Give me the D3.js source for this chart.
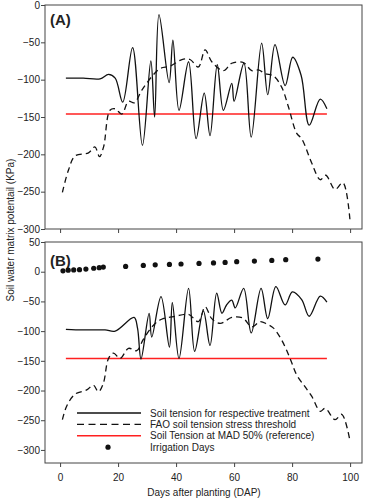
<!DOCTYPE html>
<html>
<head>
<meta charset="utf-8">
<script src="https://cdn.jsdelivr.net/npm/d3@7"></script>
<style>
  body { margin: 0; background: #fff; }
  text { font-family: "Liberation Sans", Arial, sans-serif; fill: #222; }
  .frame { fill: none; stroke: #444; stroke-width: 1; }
  .tension { fill: none; stroke: #111; stroke-width: 1.3; }
  .fao { fill: none; stroke: #111; stroke-width: 1.3; stroke-dasharray: 6,4; }
  .mad { stroke: #ff2020; stroke-width: 1.4; }
</style>
</head>
<body>
<script>
// Panel A: soil tension (days / kPa)
var dayA = [2, 8, 13.8, 16.7, 19, 21.6, 25, 28.4, 31.3, 32.6, 34.1, 37.6, 38.9, 41, 44.3, 46.9, 49.7, 51.7, 54.2, 56.3, 59.2, 60, 63.4, 65.9, 69.5, 71.6, 74.1, 77.6, 80.2, 83.1, 85.9, 89.7, 92];
var tensionA = [-98, -98, -99, -93, -98, -130, -57, -188, -75, -150, -13, -104, -47, -141, -76, -179, -118, -175, -80, -141, -105, -129, -78, -177, -51, -120, -53, -108, -70, -94, -161, -126, -139];

// Panel A: FAO stress threshold
var faoDayA = [0.8, 2.9, 5.2, 9.8, 12, 13.6, 15, 17.2, 19, 21.3, 23.6, 25.6, 28.2, 31.6, 34.5, 37.9, 42, 44.8, 47.7, 50, 52.3, 56.3, 59.2, 63.2, 66.1, 68.4, 70.7, 73.6, 76.4, 78.7, 81.6, 83.3, 86.8, 89.7, 91.6, 94.8, 97.5, 100];
var faoA = [-251, -221, -202, -198, -190, -203, -190, -141, -139, -146, -129, -131, -114, -96, -85, -82, -73, -73, -83, -60, -76, -88, -78, -77, -88, -87, -92, -95, -110, -136, -172, -179, -212, -234, -228, -247, -238, -290];

// Panel B: soil tension
var dayB = [2, 8, 15.5, 19, 25.5, 26.7, 27.9, 30.7, 31.6, 34.8, 37.7, 38.7, 41, 44.3, 46.4, 49.4, 51.7, 54, 55.8, 57.4, 59.2, 60.4, 63.3, 65.9, 69.3, 71.6, 74.4, 77.6, 80.1, 83.3, 85.9, 89.7, 92];
var tensionB = [-97, -98, -98, -100, -77, -95, -147, -70, -110, -42, -127, -52, -146, -28, -134, -66, -124, -36, -70, -56, -48, -61, -28, -103, -28, -79, -25, -56, -34, -47, -75, -41, -51];

// Panel B: FAO stress threshold
var faoDayB = [0.8, 2.3, 5.2, 9.2, 11.5, 13.2, 14.9, 16.7, 18.4, 20.7, 23.6, 26.4, 28.7, 32.2, 35, 39.7, 44.3, 47.7, 50, 52.3, 55.2, 59.2, 63, 66.1, 69, 71.3, 73.6, 76.4, 79.3, 81.6, 84.5, 86.8, 89.7, 91.4, 94.8, 97.1, 100];
var faoB = [-249, -226, -206, -199, -191, -202, -188, -146, -137, -146, -129, -133, -114, -90, -80, -75, -72, -84, -59, -79, -87, -77, -78, -93, -84, -88, -95, -115, -146, -174, -194, -210, -235, -230, -249, -240, -286];

// Panel B: irrigation days
var irrDays = [1, 2.8, 4.7, 6.7, 8.9, 11.6, 13.5, 14.9, 22.6, 28.7, 32.8, 37.7, 41.7, 47.9, 52.9, 56.9, 60.9, 67, 73, 77.8, 88.9];
var irrVals = [1.5, 2.5, 3, 3.5, 4.5, 5.8, 6.8, 7.8, 8.9, 10.5, 11.6, 12.3, 13, 14, 14.7, 15.7, 16.8, 17.9, 19, 20.2, 21.3];

// MAD 50% reference
var madDays = [2, 92];
var madValue = -146;

// tick labels
var xTicks = [0, 20, 40, 60, 80, 100];
var yTicksA = [0, -50, -100, -150, -200, -250, -300];
var yTicksB = [50, 0, -50, -100, -150, -200, -250, -300];

var legendLabels = [
  "Soil tension for respective treatment",
  "FAO soil tension stress threshold",
  "Soil Tension at MAD 50% (reference)",
  "Irrigation Days"
];

var svgWidth = 365;
var svgHeight = 500;

var svg = d3.select("body")
  .append("svg")
  .attr("width", svgWidth)
  .attr("height", svgHeight);

// shared x scale
var xScale = d3.scaleLinear()
  .domain([-5.2, 104.1])
  .range([45, 362]);

var yScaleA = d3.scaleLinear()
  .domain([-300, 0])
  .range([229, 5]);

var yScaleB = d3.scaleLinear()
  .domain([-322, 50])
  .range([463, 242]);

function zip(xs, ys) {
  return xs.map((d, i) => [d, ys[i]]);
}

function drawPanel(yScale, yTicks, showXLabels, label, labelY) {
  var g = svg.append("g");
  var y0 = yScale.range()[0];
  var y1 = yScale.range()[1];

  var line = d3.line()
    .x(d => xScale(d[0]))
    .y(d => yScale(d[1]))
    .curve(d3.curveCatmullRom.alpha(0.5));

  // frame
  g.append("rect")
    .classed("frame", true)
    .attr("x", xScale.range()[0])
    .attr("y", y1)
    .attr("width", xScale.range()[1] - xScale.range()[0])
    .attr("height", y0 - y1);

  // left axis
  var leftAxis = d3.axisLeft(yScale)
    .tickValues(yTicks)
    .tickSize(4)
    .tickSizeOuter(0)
    .tickFormat(d3.format("d"));
  var ly = g.append("g")
    .attr("transform", `translate(${xScale.range()[0]}, 0)`)
    .call(leftAxis);
  ly.select(".domain").remove();
  ly.selectAll("line").attr("stroke", "#444");
  ly.selectAll("text")
    .attr("x", -5)
    .style("font-size", "10px")
    .style("font-family", "Liberation Sans, Arial, sans-serif")
    .attr("fill", "#222");

  // bottom axis
  var bottomAxis = d3.axisBottom(xScale)
    .tickValues(xTicks)
    .tickSize(4)
    .tickSizeOuter(0);
  if (!showXLabels) bottomAxis.tickFormat("");
  var bx = g.append("g")
    .attr("transform", `translate(0, ${y0})`)
    .call(bottomAxis);
  bx.select(".domain").remove();
  bx.selectAll("line").attr("stroke", "#444");
  bx.selectAll("text")
    .attr("y", 11)
    .style("font-size", "10px")
    .style("font-family", "Liberation Sans, Arial, sans-serif")
    .attr("fill", "#222");

  // panel label
  g.append("text")
    .attr("x", 50)
    .attr("y", labelY)
    .style("font-size", "15px")
    .style("font-weight", "bold")
    .text(label);

  return { g: g, line: line };
}

// ---- Panel A ----
var pA = drawPanel(yScaleA, yTicksA, false, "(A)", 25);

pA.g.append("line")
  .classed("mad", true)
  .attr("x1", xScale(madDays[0]))
  .attr("x2", xScale(madDays[1]))
  .attr("y1", yScaleA(madValue))
  .attr("y2", yScaleA(madValue));

pA.g.append("path")
  .classed("fao", true)
  .attr("d", pA.line(zip(faoDayA, faoA)));

pA.g.append("path")
  .classed("tension", true)
  .attr("d", pA.line(zip(dayA, tensionA)));

// ---- Panel B ----
var pB = drawPanel(yScaleB, yTicksB, true, "(B)", 266);

pB.g.append("line")
  .classed("mad", true)
  .attr("x1", xScale(madDays[0]))
  .attr("x2", xScale(madDays[1]))
  .attr("y1", yScaleB(madValue))
  .attr("y2", yScaleB(madValue));

pB.g.append("path")
  .classed("fao", true)
  .attr("d", pB.line(zip(faoDayB, faoB)));

pB.g.append("path")
  .classed("tension", true)
  .attr("d", pB.line(zip(dayB, tensionB)));

pB.g.selectAll("circle.irr")
  .data(zip(irrDays, irrVals))
  .enter()
  .append("circle")
  .attr("class", "irr")
  .attr("cx", d => xScale(d[0]))
  .attr("cy", d => yScaleB(d[1]))
  .attr("r", 2.6)
  .attr("fill", "#111");

// ---- Legend ----
var legend = svg.append("g")
  .attr("transform", "translate(77, 413)");
var rowH = 11.4;

legendLabels.forEach(function(lbl, i) {
  var row = legend.append("g").attr("transform", `translate(0, ${i * rowH})`);
  if (i === 0) {
    row.append("line").classed("tension", true).attr("x1", 0).attr("x2", 64);
  } else if (i === 1) {
    row.append("line").classed("fao", true).attr("x1", 0).attr("x2", 64)
      .style("stroke-dasharray", "7,4.5");
  } else if (i === 2) {
    row.append("line").classed("mad", true).attr("x1", 0).attr("x2", 64);
  } else {
    row.append("circle").attr("cx", 31).attr("cy", 0).attr("r", 2.6).attr("fill", "#111");
  }
  row.append("text")
    .attr("x", 73)
    .attr("y", 3.6)
    .style("font-size", "10px")
    .text(lbl);
});

// ---- Axis titles ----
svg.append("text")
  .attr("transform", "translate(14, 230) rotate(-90)")
  .attr("text-anchor", "middle")
  .style("font-size", "10px")
  .text("Soil water matrix potentail (KPa)");

svg.append("text")
  .attr("x", 204)
  .attr("y", 496)
  .attr("text-anchor", "middle")
  .style("font-size", "10px")
  .text("Days after planting (DAP)");
</script>
</body>
</html>
